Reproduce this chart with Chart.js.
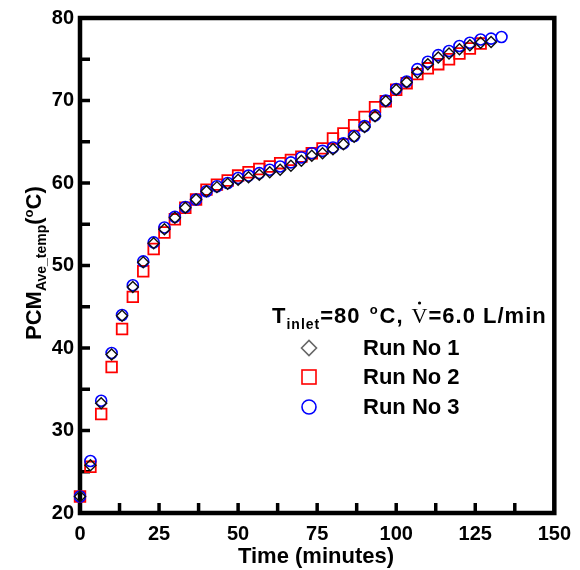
<!DOCTYPE html>
<html><head><meta charset="utf-8">
<script src="https://cdn.jsdelivr.net/npm/chart.js@4.4.1/dist/chart.umd.min.js"></script>
<style>html,body{margin:0;padding:0;background:#fff}#wrap{width:580px;height:570px;position:relative}</style>
</head><body><div id="wrap"><canvas id="c" width="580" height="570"></canvas></div>
<script>
// Time (minutes) of each sample
const times = [0,3.3,6.7,10,13.3,16.7,20,23.3,26.7,30,33.3,36.7,40,43.3,46.7,50,53.3,56.7,60,63.3,66.7,70,73.3,76.7,80,83.3,86.7,90,93.3,96.7,100,103.3,106.7,110,113.3,116.7,120,123.3,126.7,130,133.3];
// PCM average temperature (°C)
const run1 = [22.0,25.8,33.3,39.2,43.9,47.4,50.4,52.7,54.4,55.8,57.0,58.0,59.0,59.5,59.9,60.4,60.7,61.0,61.3,61.6,62.1,62.7,63.3,63.6,64.1,64.7,65.6,66.8,68.1,69.9,71.3,72.2,73.4,74.4,75.2,75.7,76.2,76.7,77.0,77.1];
const run2 = [22.0,25.6,32.0,37.7,42.3,46.2,49.3,52.0,54.0,55.6,57.0,58.0,59.2,59.8,60.3,60.9,61.3,61.7,62.0,62.4,62.8,63.2,63.6,64.2,65.4,66.0,67.0,68.0,69.2,69.9,71.3,72.1,73.2,73.9,74.4,75.0,75.7,76.3,76.9];
const run3 = [22.0,26.3,33.6,39.4,44.0,47.6,50.5,52.8,54.6,55.9,57.1,58.0,59.0,59.6,60.0,60.6,60.9,61.2,61.6,62.0,62.5,63.1,63.6,63.9,64.3,64.8,65.7,66.9,68.2,70.0,71.4,72.3,73.8,74.7,75.5,76.0,76.6,77.0,77.4,77.5,77.7];
const seriesNames = ['Run No 1','Run No 2','Run No 3'];
const xTickValues = [0,25,50,75,100,125,150];
const yTickValues = [20,30,40,50,60,70,80];
const xMinorTicks = [12.5,25,37.5,50,62.5,75,87.5,100,112.5,125,137.5];
const yMinorTicks = [25,30,35,40,45,50,55,60,65,70,75];

const pts = arr => arr.map((v,i)=>({x:times[i], y:v}));
const SANS = '"Liberation Sans", Arial, sans-serif';

function drawPieces(ctx, pieces, x, y){
  let cx = x;
  for(const p of pieces){
    ctx.font = p.font;
    ctx.fillText(p.t, cx, y + (p.dy||0));
    cx += ctx.measureText(p.t).width + (p.gap||0);
  }
  return cx;
}

const deco = {
  id:'deco',
  beforeDatasetsDraw(chart){
    const ctx = chart.ctx, a = chart.chartArea, xs = chart.scales.x, ys = chart.scales.y;
    ctx.save();
    ctx.strokeStyle = '#000';
    ctx.lineWidth = 3.5;
    for(const v of xMinorTicks){
      const px = xs.getPixelForValue(v);
      ctx.beginPath(); ctx.moveTo(px, a.bottom); ctx.lineTo(px, a.bottom-10); ctx.stroke();
    }
    for(const v of yMinorTicks){
      const py = ys.getPixelForValue(v);
      ctx.beginPath(); ctx.moveTo(a.left, py); ctx.lineTo(a.left+10, py); ctx.stroke();
    }
    ctx.lineWidth = 4.5;
    ctx.strokeRect(a.left, a.top, a.right-a.left, a.bottom-a.top);
    ctx.restore();
  },
  afterDraw(chart){
    const ctx = chart.ctx;
    ctx.save();
    ctx.fillStyle = '#000';
    ctx.textBaseline = 'alphabetic';
    ctx.textAlign = 'left';
    // x axis title
    ctx.font = 'bold 22px ' + SANS;
    ctx.textAlign = 'center';
    ctx.fillText('Time (minutes)', 316, 563);
    ctx.textAlign = 'left';
    // y axis title (rotated)
    ctx.save();
    ctx.translate(41, 340);
    ctx.rotate(-Math.PI/2);
    drawPieces(ctx, [
      {t:'PCM', font:'bold 22px '+SANS},
      {t:'Ave_temp', font:'bold 14px '+SANS, dy:5},
      {t:'(', font:'bold 22px '+SANS},
      {t:'o', font:'bold 13px '+SANS, dy:-8},
      {t:'C)', font:'bold 22px '+SANS}
    ], 0, 0);
    ctx.restore();
    // legend title
    ctx.letterSpacing = '1px';
    let cx = drawPieces(ctx, [
      {t:'T', font:'bold 22px '+SANS},
      {t:'inlet', font:'bold 14px '+SANS, dy:6},
      {t:'=80 ', font:'bold 22px '+SANS, gap:2},
      {t:'o', font:'bold 13px '+SANS, dy:-9, gap:1},
      {t:'C,', font:'bold 22px '+SANS, gap:8}
    ], 272, 323);
    ctx.font = '22px "Liberation Serif", "Times New Roman", serif';
    ctx.fillText('V', cx, 323);
    const vw = ctx.measureText('V').width;
    ctx.beginPath(); ctx.arc(cx + vw/2 - 0.5, 303, 1.6, 0, Math.PI*2); ctx.fill();
    cx += vw;
    ctx.font = 'bold 22px ' + SANS;
    ctx.fillText('=6.0 L/min', cx, 323);
    ctx.letterSpacing = '0px';
    // legend entries
    const mx = 309, tx = 363, rows = [348, 377, 407];
    ctx.lineWidth = 1.6;
    // diamond
    ctx.strokeStyle = '#666';
    ctx.beginPath();
    ctx.moveTo(mx-7.5, rows[0]); ctx.lineTo(mx, rows[0]-7.5); ctx.lineTo(mx+7.5, rows[0]); ctx.lineTo(mx, rows[0]+7.5); ctx.closePath(); ctx.stroke();
    // square
    ctx.strokeStyle = '#ff0000';
    ctx.strokeRect(mx-7, rows[1]-7, 14, 14);
    // circle
    ctx.strokeStyle = '#0000ff';
    ctx.beginPath(); ctx.arc(mx, rows[2], 7, 0, Math.PI*2); ctx.stroke();
    ctx.font = 'bold 22px ' + SANS;
    ctx.textBaseline = 'middle';
    seriesNames.forEach((n,i)=>ctx.fillText(n, tx, rows[i]+1));
    ctx.restore();
  }
};

new Chart(document.getElementById('c'), {
  type:'scatter',
  data:{ datasets:[
    {label:seriesNames[0], data:pts(run1), order:0, clip:false, showLine:false,
     pointStyle:'rectRot', pointRadius:5.5, pointBorderWidth:1.4, pointBorderColor:'#111', pointBackgroundColor:'rgba(0,0,0,0)'},
    {label:seriesNames[1], data:pts(run2), order:2, clip:false, showLine:false,
     pointStyle:'rect', pointRadius:7.5, pointBorderWidth:1.8, pointBorderColor:'#ff0000', pointBackgroundColor:'rgba(0,0,0,0)'},
    {label:seriesNames[2], data:pts(run3), order:1, clip:false, showLine:false,
     pointStyle:'circle', pointRadius:5.5, pointBorderWidth:1.6, pointBorderColor:'#0000ff', pointBackgroundColor:'rgba(0,0,0,0)'}
  ]},
  options:{
    responsive:false, animation:false, devicePixelRatio:1,
    layout:{padding:{left:0, right:18, top:18, bottom:0}},
    plugins:{legend:{display:false}, tooltip:{enabled:false}},
    scales:{
      x:{type:'linear', min:0, max:150,
         afterFit(s){ s.height = 57; },
         afterBuildTicks(s){ s.ticks = xTickValues.map(v=>({value:v})); },
         grid:{display:false, drawTicks:false}, border:{display:false},
         ticks:{padding:9, color:'#000', font:{family:SANS, size:20, weight:'bold'}, maxRotation:0}},
      y:{type:'linear', min:20, max:80,
         afterFit(s){ s.width = 80; },
         afterBuildTicks(s){ s.ticks = yTickValues.map(v=>({value:v})); },
         grid:{display:false, drawTicks:false}, border:{display:false},
         ticks:{padding:6, color:'#000', font:{family:SANS, size:20, weight:'bold'}}}
    }
  },
  plugins:[deco]
});
</script>
</body></html>
